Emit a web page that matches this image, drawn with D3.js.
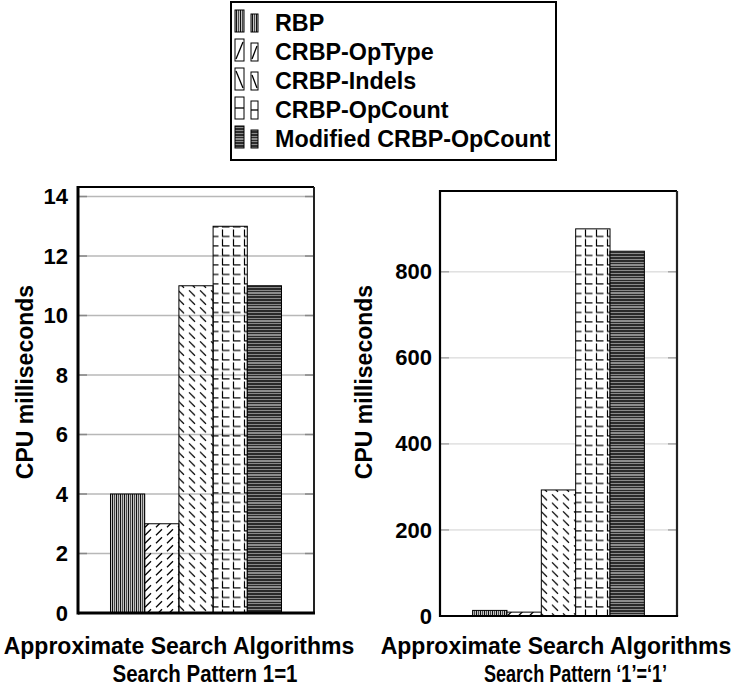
<!DOCTYPE html>
<html>
<head>
<meta charset="utf-8">
<script src="https://cdn.jsdelivr.net/npm/d3@7"></script>
<style>
html,body{margin:0;padding:0;background:#fff;}
svg{display:block;font-family:"Liberation Sans",Arial,sans-serif;font-weight:bold;}
</style>
</head>
<body>
<svg id="chart" width="739" height="689"></svg>
<script>
// ---- data ----
const categories = ["RBP", "CRBP-OpType", "CRBP-Indels", "CRBP-OpCount", "Modified CRBP-OpCount"];
const valuesPattern11 = [4, 3, 11, 13, 11];          // Search Pattern 1=1
const valuesPatternQuoted = [13, 9, 293, 900, 848];   // Search Pattern '1'='1'
const ticksLeft = [0, 2, 4, 6, 8, 10, 12, 14];
const ticksRight = [0, 200, 400, 600, 800];
const yTitle = "CPU milliseconds";
const xTitleLine1 = "Approximate Search Algorithms";
const xTitleLeft2 = "Search Pattern 1=1";
const xTitleRight2 = "Search Pattern \u20181\u2019=\u20181\u2019";

const svg = d3.select("#chart");
const defs = svg.append("defs");

// ---- patterns ----
function pat(id, w, h, bg, draw) {
  const p = defs.append("pattern").attr("id", id).attr("patternUnits", "userSpaceOnUse")
    .attr("width", w).attr("height", h);
  if (bg) p.append("rect").attr("width", w).attr("height", h).attr("fill", bg);
  draw(p);
}
function mk(suffix, bg) {
  pat("p0" + suffix, 4, 4, "#c4c4c4", p => {
    p.append("rect").attr("x", 0).attr("y", 0).attr("width", 1).attr("height", 4).attr("fill", "#111");
    p.append("rect").attr("x", 2).attr("y", 0).attr("width", 1).attr("height", 4).attr("fill", "#4a4a4a");
  });
  pat("p1" + suffix, 11, 8, bg, p => {
    p.append("line").attr("x1", 2).attr("y1", 7.3).attr("x2", 8).attr("y2", 1.3)
      .attr("stroke", "#000").attr("stroke-width", 1.3);
  });
  pat("p2" + suffix, 11, 8.5, bg, p => {
    p.append("line").attr("x1", 2).attr("y1", 1.3).attr("x2", 8).attr("y2", 7.3)
      .attr("stroke", "#000").attr("stroke-width", 1.3);
  });
  pat("p3" + suffix, 11, 9.5, bg, p => {
    p.append("path").attr("d", "M2.5,1.5V8.5H9.5").attr("fill", "none")
      .attr("stroke", "#000").attr("stroke-width", 1.2);
  });
  pat("p4" + suffix, 4, 14, "#2b2b2b", p => {
    [1, 4, 7, 10].forEach(y => p.append("rect").attr("x", 0).attr("y", y).attr("width", 4).attr("height", 1).attr("fill", "#8a8a8a"));
    p.append("rect").attr("x", 0).attr("y", 12.5).attr("width", 4).attr("height", 1).attr("fill", "#eee");
  });
}
mk("a", null);      // left panel: light patterns transparent
mk("b", "#fff");    // right panel: opaque

// ---- panels ----
function panel(cfg) {
  const { x0, x1, y0, y1, ymax, values, ticks, suffix, gridColor, gridW, frameW, leftW, bottomW } = cfg;
  const g = svg.append("g");
  const y = d3.scaleLinear().domain([0, ymax]).range([y1, y0]);
  const x = d3.scaleBand().domain(categories).range([x0, x1]).paddingInner(0).paddingOuter(0.95);

  // gridlines
  ticks.filter(t => t > 0).forEach(t => {
    g.append("line").attr("x1", x0).attr("x2", x1).attr("y1", y(t)).attr("y2", y(t))
      .attr("stroke", gridColor).attr("stroke-width", gridW);
    g.append("line").attr("x1", x0).attr("x2", x0 + 9).attr("y1", y(t)).attr("y2", y(t))
      .attr("stroke", "#888").attr("stroke-width", gridW);
    g.append("line").attr("x1", x1 - 9).attr("x2", x1).attr("y1", y(t)).attr("y2", y(t))
      .attr("stroke", "#888").attr("stroke-width", gridW);
  });

  // bars
  g.selectAll("rect.bar").data(categories).enter().append("rect").attr("class", "bar")
    .attr("x", d => x(d)).attr("width", x.bandwidth())
    .attr("y", (d, i) => y(values[i])).attr("height", (d, i) => y(0) - y(values[i]))
    .attr("fill", (d, i) => `url(#p${i}${suffix})`)
    .attr("stroke", "#000").attr("stroke-width", 1);

  // frame
  g.append("line").attr("x1", x0).attr("x2", x1).attr("y1", y0).attr("y2", y0).attr("stroke", "#000").attr("stroke-width", frameW);
  g.append("line").attr("x1", x1).attr("x2", x1).attr("y1", y0).attr("y2", y1).attr("stroke", "#222").attr("stroke-width", frameW);
  g.append("line").attr("x1", x0).attr("x2", x0).attr("y1", y0 - frameW / 2).attr("y2", y1 + bottomW / 2).attr("stroke", "#000").attr("stroke-width", leftW);
  g.append("line").attr("x1", x0).attr("x2", x1 + frameW / 2).attr("y1", y1).attr("y2", y1).attr("stroke", "#000").attr("stroke-width", bottomW);

  // y axis labels
  const axis = d3.axisLeft(y).tickValues(ticks).tickSize(0).tickPadding(cfg.tickPad);
  const ag = g.append("g").attr("transform", `translate(${x0},0)`).call(axis);
  ag.select(".domain").remove();
  ag.selectAll("text").attr("font-size", 22).attr("font-weight", "bold")
    .attr("font-family", "Liberation Sans, Arial, sans-serif").attr("fill", "#000");

  // y title
  g.append("text").attr("transform", `translate(${cfg.yTitleX},382) rotate(-90)`)
    .attr("text-anchor", "middle").attr("dy", "0.35em").attr("font-size", 23).text(yTitle);

  // x title
  g.append("text").attr("x", cfg.t1x).attr("y", 654).attr("font-size", 23)
    .attr("text-anchor", "middle").text(xTitleLine1);
  g.append("text").attr("x", cfg.t2x - cfg.t2w / 2).attr("y", 682).attr("font-size", 24)
    .attr("textLength", cfg.t2w).attr("lengthAdjust", "spacingAndGlyphs").text(cfg.title2);
}

panel({ x0: 78, x1: 314, y0: 187, y1: 613, ymax: 14.32, values: valuesPattern11, ticks: ticksLeft,
  suffix: "a", gridColor: "#b8b8b8", gridW: 1.5, frameW: 2, leftW: 3, bottomW: 3, tickPad: 10,
  yTitleX: 25, t1x: 179, t2x: 205, t2w: 185, title2: xTitleLeft2 });
panel({ x0: 440, x1: 677, y0: 191, y1: 616, ymax: 988, values: valuesPatternQuoted, ticks: ticksRight,
  suffix: "b", gridColor: "#d0d0d0", gridW: 1, frameW: 2.2, leftW: 2.2, bottomW: 2.2, tickPad: 8,
  yTitleX: 364, t1x: 556, t2x: 575.5, t2w: 183, title2: xTitleRight2 });

// ---- legend ----
const lg = svg.append("g");
lg.append("rect").attr("x", 231).attr("y", 2).attr("width", 325).attr("height", 158)
  .attr("fill", "#fff").attr("stroke", "#000").attr("stroke-width", 2);
const rowY = d3.scalePoint().domain(categories).range([23, 139]);
function icon(i, x, yTop, w, h) {
  const fills = ["url(#p0b)", "#fff", "#fff", "#fff", "url(#p4b)"];
  lg.append("rect").attr("x", x).attr("y", yTop).attr("width", w).attr("height", h)
    .attr("fill", fills[i]).attr("stroke", "#000").attr("stroke-width", 1);
  const s = { stroke: "#000", "stroke-width": 1.3, fill: "none" };
  let p = null;
  if (i === 1) p = `M${x + 1},${yTop + h - 2}L${x + w - 1},${yTop + 3}`;
  if (i === 2) p = `M${x + 1},${yTop + 3}L${x + w - 1},${yTop + h - 2}`;
  if (i === 3) p = `M${x},${yTop + h / 2}H${x + w}`;
  if (p) { const el = lg.append("path").attr("d", p); Object.entries(s).forEach(([k, v]) => el.attr(k, v)); }
}
categories.forEach((c, i) => {
  const cy = rowY(c);
  icon(i, 235, cy - 13, 9, 22);
  icon(i, 251, cy - 9, 7, 18);
  lg.append("text").attr("x", 275).attr("y", cy).attr("dy", "0.36em").attr("font-size", 23.3).text(c);
});
</script>
</body>
</html>
